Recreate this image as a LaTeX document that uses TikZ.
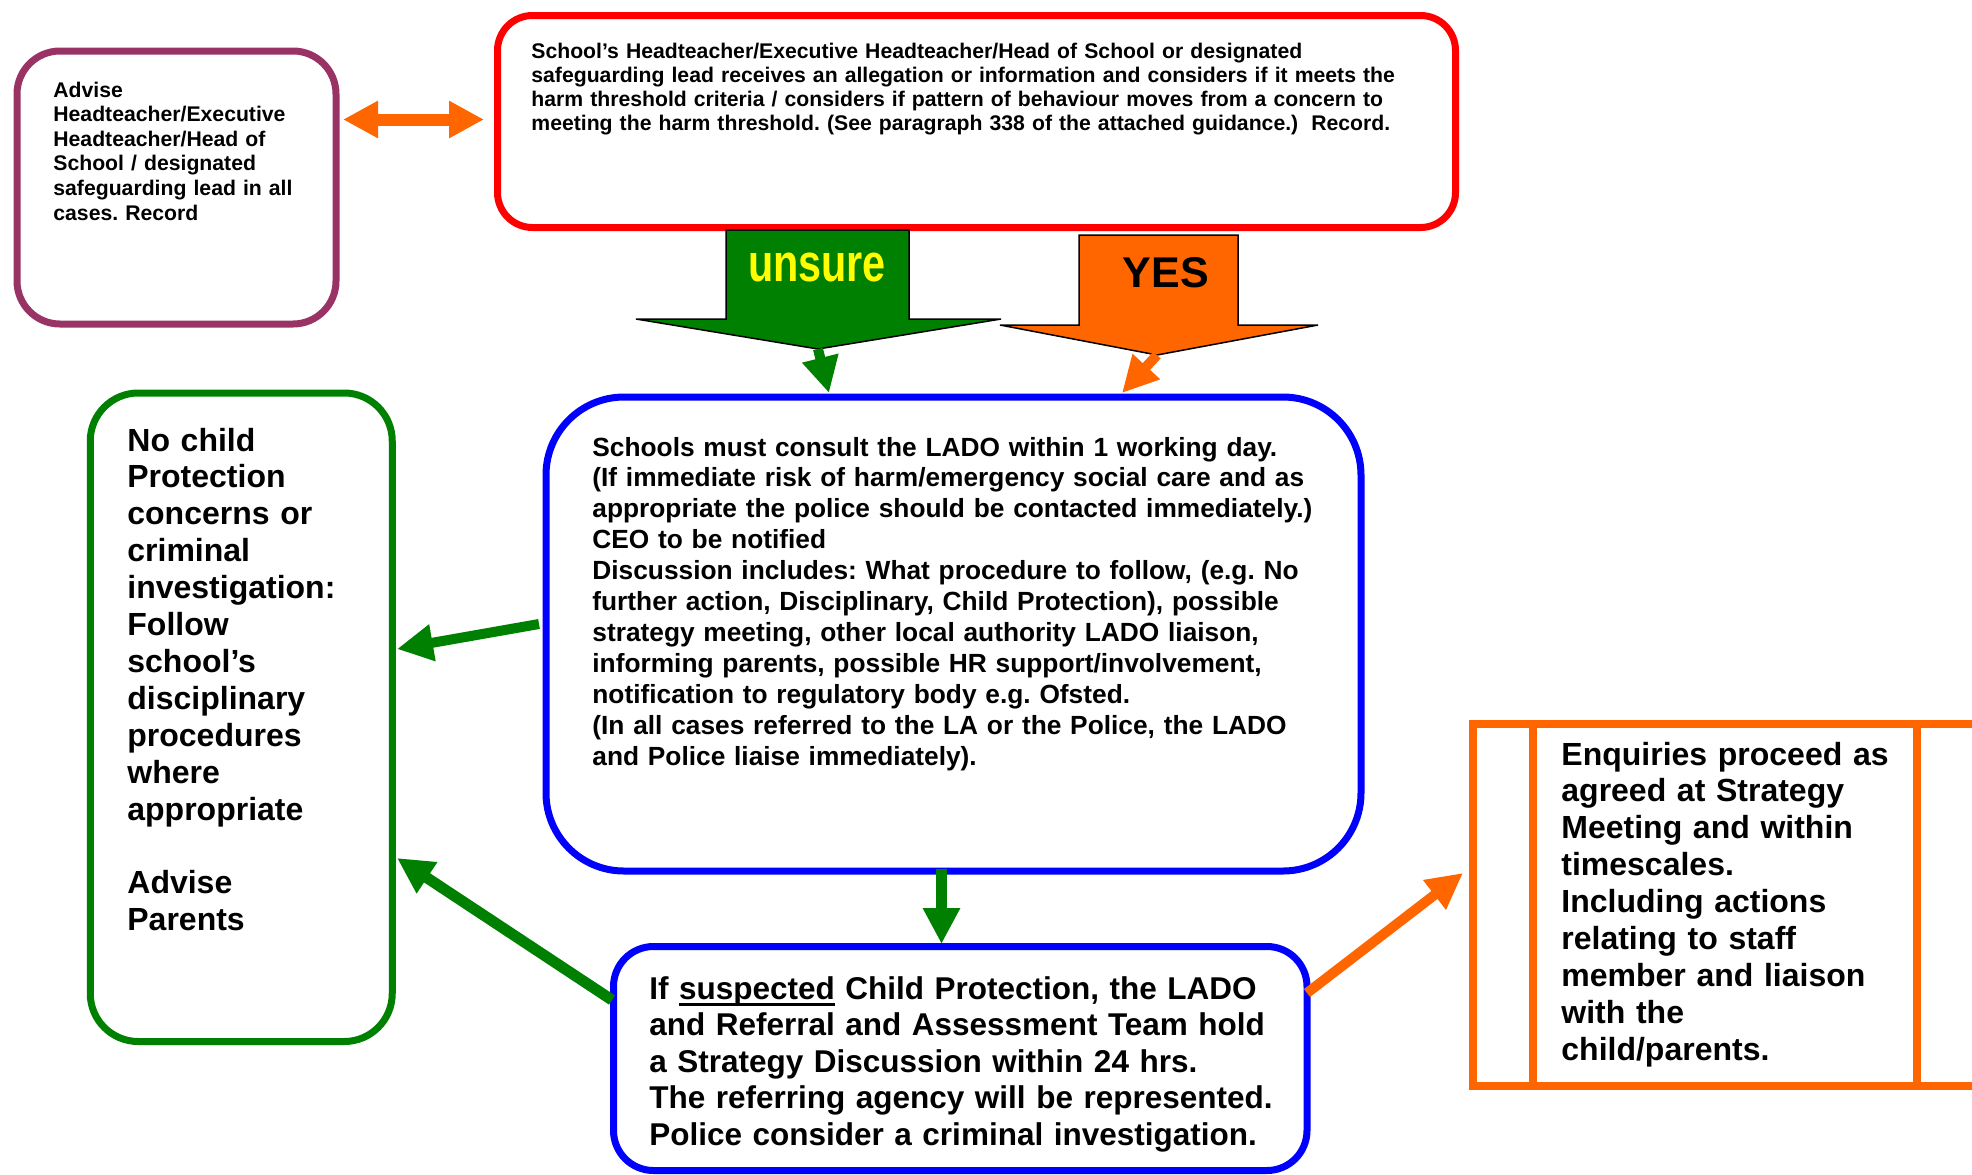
\documentclass[tikz,border=0pt]{standalone}
\usepackage{fontspec}
\setmainfont{Liberation Sans}
\newfontfamily\narrowfont[FakeStretch=0.78]{Liberation Sans}
\usetikzlibrary{arrows.meta}
\definecolor{cgreen}{RGB}{0,128,0}
\definecolor{corange}{RGB}{255,102,0}
\definecolor{cpurple}{RGB}{153,51,102}
\definecolor{cblue}{RGB}{0,0,255}
\definecolor{cred}{RGB}{255,0,0}
\definecolor{cyellow}{RGB}{255,255,0}
\newcommand\myul[1]{\setbox0\hbox{#1}\rlap{\rule[-3.3pt]{\wd0}{1.5pt}}\box0\relax}
\frenchspacing
\begin{document}
\begin{tikzpicture}[x=0.5pt,y=-0.5pt,
  box/.style={draw,rectangle,inner sep=0pt,line width=3.5pt,fill=white},
  txt/.style={anchor=base west,inner sep=0pt,align=left,text width=560pt},
  conn/.style={line width=5pt,-{Triangle[length=18pt,width=17.5pt]}},
  bigarrow/.style={draw=black,line width=0.75pt,line join=miter},
]
\clip (0,0) rectangle (1972,1174);
\fill[white] (0,0) rectangle (1972,1174);

% boxes
\node[box,draw=cpurple,rounded corners=21.5pt,minimum width=159.5pt,minimum height=136.5pt] (purple) at (176.5,187.5) {};
\node[box,draw=cred,rounded corners=17.5pt,minimum width=479pt,minimum height=106pt] (red) at (976.5,121.5) {};
\node[box,draw=cblue,rounded corners=39pt,minimum width=407.5pt,minimum height=237pt] (lado) at (953.5,634) {};
\node[box,draw=cgreen,rounded corners=24pt,minimum width=151pt,minimum height=324.25pt] (nocp) at (241.25,717.25) {};
\node[box,draw=cblue,rounded corners=20pt,minimum width=346.75pt,minimum height=112pt] (strat) at (960.25,1058.5) {};
\node[box,draw=corange,line width=4pt,minimum width=283.5pt,minimum height=181pt] (enq) at (1756.5,905) {};
\draw[corange,line width=4pt] ([xshift=32pt]enq.north west) -- ([xshift=32pt]enq.south west);
\draw[corange,line width=4pt] ([xshift=224pt]enq.north west) -- ([xshift=224pt]enq.south west);

% texts
\node[txt,font=\fontsize{10.6}{12.3}\selectfont\bfseries] (purpletext) at (53,97)
 {Advise\\Headteacher/Executive\\Headteacher/Head of\\School / designated\\safeguarding lead in all\\cases. Record};
\node[txt,font=\fontsize{10.6}{12}\selectfont\bfseries] (redtext) at (531,58)
 {School’s Headteacher/Executive Headteacher/Head of School or designated\\
  safeguarding lead receives an allegation or information and considers if it meets the\\
  harm threshold criteria / considers if pattern of behaviour moves from a concern to\\
  meeting the harm threshold. (See paragraph 338 of the attached guidance.)\hspace{6.5pt}Record.};
\node[txt,font=\fontsize{13.15}{15.45}\selectfont\bfseries] (ladotext) at (592,456)
 {Schools must consult the LADO within 1 working day.\\
  (If immediate risk of harm/emergency social care and as\\
  appropriate the police should be contacted immediately.)\\
  CEO to be notified\\
  Discussion includes: What procedure to follow, (e.g. No\\
  further action, Disciplinary, Child Protection), possible\\
  strategy meeting, other local authority LADO liaison,\\
  informing parents, possible HR support/involvement,\\
  notification to regulatory body e.g. Ofsted.\\
  (In all cases referred to the LA or the Police, the LADO\\
  and Police liaise immediately).};
\node[txt,font=\fontsize{16}{18.45}\selectfont\bfseries] (nocptext) at (127,451)
 {No child\\Protection\\concerns or\\criminal\\investigation:\\Follow\\school’s\\disciplinary\\procedures\\where\\appropriate\\[18.45pt]Advise\\Parents};
\node[txt,font=\fontsize{15.75}{18.25}\selectfont\bfseries] (strattext) at (649,999)
 {If \myul{suspected} Child Protection, the LADO\\
  and Referral and Assessment Team hold\\
  a Strategy Discussion within 24 hrs.\\
  The referring agency will be represented.\\
  Police consider a criminal investigation.};
\node[txt,font=\fontsize{16}{18.45}\selectfont\bfseries] (enqtext) at (1561,765)
 {Enquiries proceed as\\agreed at Strategy\\Meeting and within\\timescales.\\Including actions\\relating to staff\\member and liaison\\with the\\child/parents.};

% big block arrows
\coordinate (utip) at (818,349);
\coordinate (ytip) at (1157,355);
\draw[bigarrow,fill=cgreen] (726,230) -- (909,230) -- (909,319) -- (1001,319) -- (utip) -- (636,319) -- (726,319) -- cycle;
\draw[bigarrow,fill=corange] (1079,235) -- (1238,235) -- (1238,325) -- (1318,325) -- (ytip) -- (1000,325) -- (1079,325) -- cycle;
\node[inner sep=0pt,font=\narrowfont\fontsize{26.5}{26.5}\selectfont\bfseries,text=cyellow] (unsure) at (817,267.5) {unsure};
\node[inner sep=0pt,font=\fontsize{21.5}{21.5}\selectfont\bfseries,text=black] (yes) at (1166,272.5) {YES};

% connector end points
\coordinate (ub) at (829,393);
\coordinate (yb) at (1122,393);
\coordinate (da1) at (343,119.5);
\coordinate (da2) at (484,119.5);
\coordinate (l1) at (539,624);
\coordinate (l2) at (397,649);
\coordinate (s1) at (612,1000);
\coordinate (s2) at (397,858);
\coordinate (v1) at (941.5,869);
\coordinate (v2) at (941.5,944);
\coordinate (o1) at (1307,993);
\coordinate (o2) at (1463,873);

% connectors
\draw[corange,line width=6pt,{Triangle[length=17.5pt,width=17.5pt]}-{Triangle[length=17.5pt,width=17.5pt]}] (da1) -- (da2);
\draw[cgreen,conn] (utip) -- (ub);
\draw[corange,conn] (ytip) -- (yb);
\draw[cgreen,conn] (l1) -- (l2);
\draw[cgreen,conn,line width=5.5pt] (s1) -- (s2);
\draw[cgreen,conn,line width=5.5pt] (v1) -- (v2);
\draw[corange,conn] (o1) -- (o2);
\end{tikzpicture}
\end{document}
